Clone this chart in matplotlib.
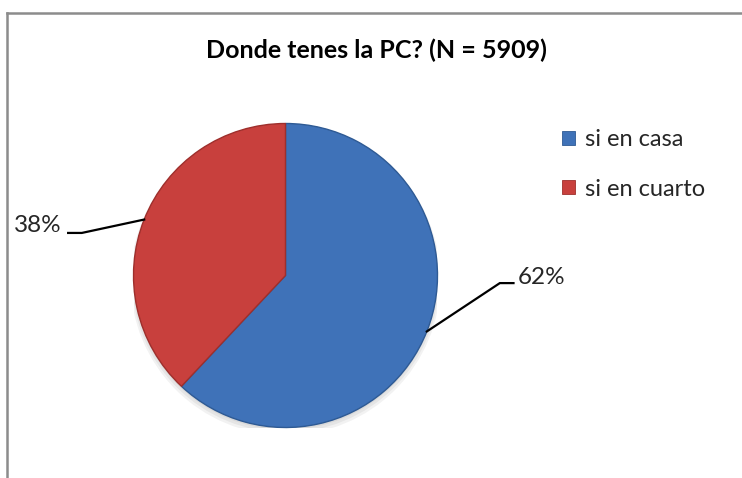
import numpy as np
import matplotlib
matplotlib.use("Agg")
import matplotlib.pyplot as plt
from matplotlib.patches import Patch
from matplotlib.lines import Line2D

title = "Donde tenes la PC? (N = 5909)"
categories = ["si en casa", "si en cuarto"]
values = [62, 38]
colors = ["#3F72B8", "#C8403D"]
edge_colors = ["#2E5A94", "#9E2F2C"]

plt.rcParams["font.family"] = ["Lato", "DejaVu Sans"]

W, H = 742, 478
fig = plt.figure(figsize=(W / 100, H / 100), dpi=100)

# pie axes: centre (285.5, 275.5) px, radius 152 px
cx, cy, r = 285.5, 275.5, 152
ax = fig.add_axes([(cx - r) / W, (H - cy - r) / H, 2 * r / W, 2 * r / H])
ax.set_axis_off()

# soft shadow
for k, a in enumerate([0.05, 0.05, 0.05]):
    sh = plt.Circle((0.0, -0.015 - 0.008 * k), 1.0 + 0.01 * k, color="black",
                    alpha=a, lw=0, zorder=0)
    ax.add_patch(sh)

wedges, _ = ax.pie(values, colors=colors, startangle=90, counterclock=False,
                   radius=1.0, wedgeprops=dict(linewidth=1.0))
for w, ec in zip(wedges, edge_colors):
    w.set_edgecolor(ec)
    w.set_zorder(2)
ax.set_xlim(-1, 1)
ax.set_ylim(-1, 1)

# labels with leader lines
for w, v in zip(wedges, values):
    ang = np.deg2rad((w.theta1 + w.theta2) / 2)
    x0, y0 = np.cos(ang), np.sin(ang)
    if x0 > 0:
        xe, ye = 1.41, -0.05
        xs = 1.50
        tx, ty = 1.53, -0.01
        ha = "left"
    else:
        xe, ye = -1.34, 0.28
        xs = -1.43
        tx, ty = -1.47, 0.33
        ha = "right"
    ax.plot([x0, xe, xs], [y0, ye, ye], color="black", lw=1.6, clip_on=False,
            solid_joinstyle="miter", zorder=3)
    ax.text(tx, ty, f"{v}%", ha=ha, va="center", fontsize=17.5,
            color="#262626", clip_on=False)

fig.text(376 / W, 1 - 50 / H, title, ha="center", va="center",
         fontsize=18, fontweight="bold", color="black")

handles = [Patch(facecolor=c, edgecolor=ec, lw=0.6) for c, ec in zip(colors, edge_colors)]
fig.legend(handles, categories, loc="upper left",
           bbox_to_anchor=(541 / W, 1 - 108 / H), frameon=False,
           fontsize=17, handlelength=0.55, handleheight=0.55, handletextpad=0.4,
           labelspacing=1.2, labelcolor="#262626")

# chart border (top and left visible)
fig.add_artist(Line2D([7 / W, 1], [1 - 13 / H, 1 - 13 / H], color="#8C8C8C", lw=1.8))
fig.add_artist(Line2D([7 / W, 7 / W], [0, 1 - 13 / H], color="#8C8C8C", lw=1.8))

fig.savefig("out.png", dpi=100)
